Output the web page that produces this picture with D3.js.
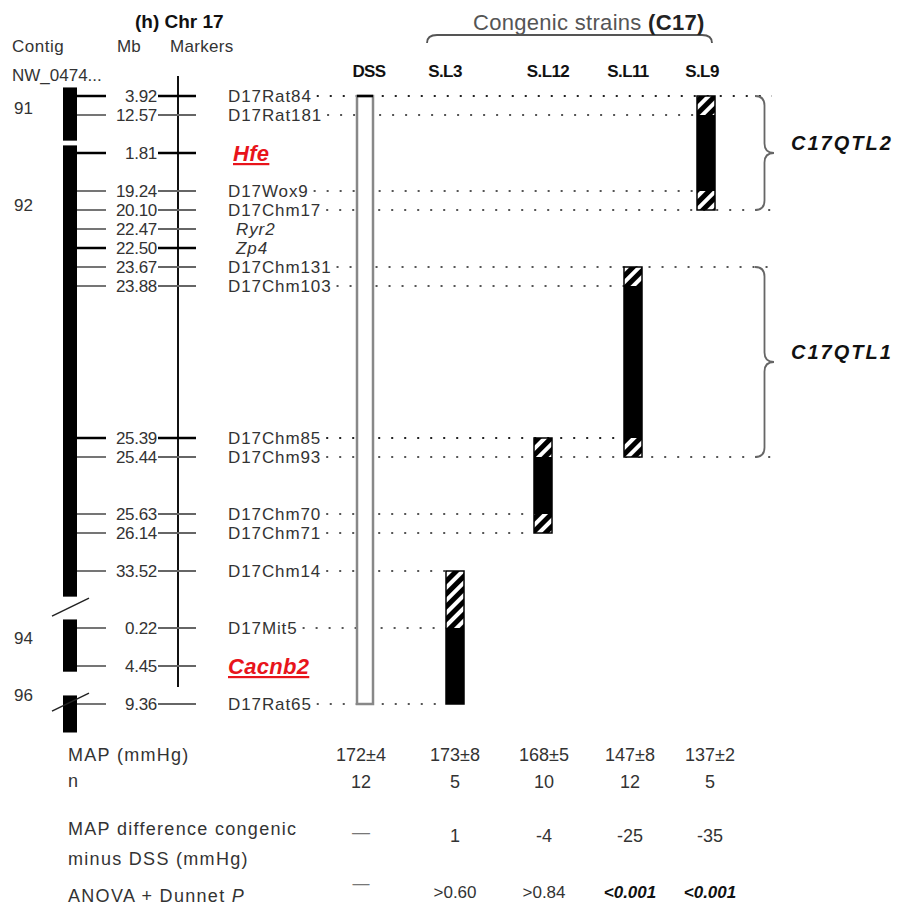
<!DOCTYPE html>
<html>
<head>
<meta charset="utf-8">
<title>Chr 17 congenic strains</title>
<script src="https://cdn.jsdelivr.net/npm/d3@7"></script>
<style>
  body { margin: 0; background: #fff; }
  svg text { font-family: "Liberation Sans", Arial, sans-serif; fill: #333; }
</style>
</head>
<body>
<div id="chart"></div>
<script>
// markers in map order; slot = row on the map grid
var markers = ["D17Rat84", "D17Rat181", "Hfe", "D17Wox9", "D17Chm17", "Ryr2", "Zp4", "D17Chm131", "D17Chm103",
  "D17Chm85", "D17Chm93", "D17Chm70", "D17Chm71", "D17Chm14", "D17Mit5", "Cacnb2", "D17Rat65"];
var mbLabels = ["3.92", "12.57", "1.81", "19.24", "20.10", "22.47", "22.50", "23.67", "23.88",
  "25.39", "25.44", "25.63", "26.14", "33.52", "0.22", "4.45", "9.36"];
var slots = [0, 1, 3, 5, 6, 7, 8, 9, 10, 18, 19, 22, 23, 25, 28, 30, 32];
var genes = ["Hfe", "Cacnb2"];
var italicMarkers = ["Ryr2", "Zp4"];
var boldTicks = ["D17Rat84", "Hfe", "Zp4", "D17Chm85"];
// where each marker's dotted guide stops (strain bar or the QTL brace)
var dotEnds = ["brace", "S.L9", null, "S.L9", "brace", null, null, "brace", "S.L11",
  "S.L11", "brace", "S.L12", "S.L12", "S.L3", "S.L3", null, "S.L3"];

// contigs (NW_0474...) as slot spans
var contigs = ["91", "92", "94", "96"];
var contigSpans = [[-0.45, 2.35], [2.6, 26.35], [27.55, 30.3], [31.55, 33.5]];
var contigLabelSlots = [0.65, 5.75, 28.55, 31.55];
var breakSlots = [26.9, 31.9];

// strains and their donor intervals (slots)
var strains = ["DSS", "S.L3", "S.L12", "S.L11", "S.L9"];
var strainSpans = [[0, 32], [25, 32], [18, 23], [9, 19], [0, 6]];
var strainFlanks = [[], [[25, 28]], [[18, 19], [22, 23]], [[9, 10], [18, 19]], [[0, 1], [5, 6]]];

var qtls = ["C17QTL2", "C17QTL1"];
var qtlSpans = [[0, 6], [9, 19]];

// blood pressure table
var mapMean = [172, 173, 168, 147, 137];
var mapSem = [4, 8, 5, 8, 2];
var nRats = [12, 5, 10, 12, 5];
var mapDiff = [null, 1, -4, -25, -35];
var pValues = [null, ">0.60", ">0.84", "<0.001", "<0.001"];
var pSignificant = [false, false, false, true, true];

var width = 897, height = 907;
var svg = d3.select("#chart").append("svg").attr("width", width).attr("height", height);

var y = d3.scaleLinear().domain([0, 32]).range([96, 704]);
var x = d3.scaleOrdinal().domain(strains).range([365, 455, 543, 633, 706]);
var headX = d3.scaleOrdinal().domain(strains).range([369, 445, 548, 628, 702]);
var tableX = d3.scaleOrdinal().domain(strains).range([361, 455, 544, 630, 710]);

var defs = svg.append("defs");
var hatch = defs.append("pattern").attr("id", "hatch").attr("patternUnits", "userSpaceOnUse")
  .attr("width", 9).attr("height", 9).attr("patternTransform", "rotate(45)");
hatch.append("rect").attr("width", 9).attr("height", 9).attr("fill", "#000");
hatch.append("rect").attr("width", 4).attr("height", 9).attr("fill", "#fff");

// header
svg.append("text").attr("x", 135).attr("y", 28).style("font-size", "19px").style("font-weight", "bold")
  .style("fill", "#111").text("(h) Chr 17");
svg.append("text").attr("x", 12).attr("y", 52).style("font-size", "17px").style("letter-spacing", "0.5px").text("Contig");
svg.append("text").attr("x", 117).attr("y", 52).style("font-size", "17px").text("Mb");
svg.append("text").attr("x", 170).attr("y", 52).style("font-size", "17px").style("letter-spacing", "0.3px").text("Markers");
svg.append("text").attr("x", 12).attr("y", 81).style("font-size", "17px").text("NW_0474...");

// contig bars
svg.selectAll(".contig").data(contigSpans).join("rect").attr("class", "contig")
  .attr("x", 63).attr("width", 14)
  .attr("y", function(d) { return y(d[0]); })
  .attr("height", function(d) { return y(d[1]) - y(d[0]); })
  .attr("fill", "#000");
svg.selectAll(".contigLabel").data(contigs).join("text").attr("class", "contigLabel")
  .attr("x", 14).attr("y", function(d, i) { return y(contigLabelSlots[i]) + 6; })
  .style("font-size", "17px").text(function(d) { return d; });
svg.selectAll(".break").data(breakSlots).join("line").attr("class", "break")
  .attr("x1", 52).attr("x2", 89)
  .attr("y1", function(d) { return y(d) + 9; })
  .attr("y2", function(d) { return y(d) - 9; })
  .attr("stroke", "#222").attr("stroke-width", 1.5);

// marker axis
svg.append("line").attr("x1", 178).attr("x2", 178).attr("y1", 76).attr("y2", 687)
  .attr("stroke", "#111").attr("stroke-width", 2);

var rows = svg.selectAll(".marker").data(markers).join("g").attr("class", "marker")
  .attr("transform", function(d, i) { return "translate(0," + y(slots[i]) + ")"; });
rows.append("line").attr("x1", 77).attr("x2", 106)
  .attr("stroke", function(d) { return boldTicks.indexOf(d) >= 0 ? "#000" : "#666"; })
  .attr("stroke-width", function(d) { return boldTicks.indexOf(d) >= 0 ? 2.5 : 1.8; });
rows.append("line").attr("x1", 158).attr("x2", 196)
  .attr("stroke", function(d) { return boldTicks.indexOf(d) >= 0 ? "#000" : "#666"; })
  .attr("stroke-width", function(d) { return boldTicks.indexOf(d) >= 0 ? 2.5 : 1.8; });
rows.append("text").attr("x", 157).attr("y", 6).attr("text-anchor", "end")
  .style("font-size", "17px").style("letter-spacing", "-0.3px")
  .text(function(d, i) { return mbLabels[i]; });
var names = rows.append("text")
  .attr("x", function(d) { return d === "Hfe" ? 233 : (italicMarkers.indexOf(d) >= 0 ? 236 : 228); })
  .attr("y", function(d) { return genes.indexOf(d) >= 0 ? 8 : 6; })
  .style("font-size", function(d) { return genes.indexOf(d) >= 0 ? "22px" : "17px"; })
  .style("font-style", function(d) { return genes.indexOf(d) >= 0 || italicMarkers.indexOf(d) >= 0 ? "italic" : "normal"; })
  .style("font-weight", function(d) { return genes.indexOf(d) >= 0 ? "bold" : "normal"; })
  .style("fill", function(d) { return genes.indexOf(d) >= 0 ? "#e8141b" : "#333"; })
  .style("text-decoration", function(d) { return genes.indexOf(d) >= 0 ? "underline" : "none"; })
  .style("letter-spacing", function(d) { return genes.indexOf(d) >= 0 ? "0.3px" : "0.9px"; })
  .text(function(d) { return d; });

// dotted guides from marker names to the strain bars
names.each(function(d, i) {
  var end = dotEnds[i];
  if (!end) return;
  var x0 = 228 + this.getComputedTextLength() + 5;
  var x1 = end === "brace" ? 772 : x(end) - 9;
  d3.select(this.parentNode).insert("line", "text").attr("class", "dots")
    .attr("x1", x0).attr("x2", x1)
    .attr("stroke", i === 0 || i === 9 ? "#222" : "#555").attr("stroke-width", 2)
    .attr("stroke-dasharray", "2,11");
});

// strain bars
svg.append("rect")
  .attr("x", x("DSS") - 8).attr("width", 16)
  .attr("y", y(strainSpans[0][0]))
  .attr("height", y(strainSpans[0][1]) - y(strainSpans[0][0]))
  .attr("fill", "#fff").attr("stroke", "#888").attr("stroke-width", 2.5);
svg.append("line").attr("x1", x("DSS") - 8).attr("x2", x("DSS") + 8)
  .attr("y1", y(0)).attr("y2", y(0)).attr("stroke", "#000").attr("stroke-width", 2.5);

strains.forEach(function(s, i) {
  if (s === "DSS") return;
  var g = svg.append("g");
  var sp = strainSpans[i];
  g.append("rect").attr("x", x(s) - 9).attr("width", 18)
    .attr("y", y(sp[0])).attr("height", y(sp[1]) - y(sp[0])).attr("fill", "#000");
  g.selectAll(".flank").data(strainFlanks[i]).join("rect").attr("class", "flank")
    .attr("x", x(s) - 9).attr("width", 18)
    .attr("y", function(d) { return y(d[0]); })
    .attr("height", function(d) { return y(d[1]) - y(d[0]); })
    .attr("fill", "url(#hatch)");
  g.append("rect").attr("x", x(s) - 9).attr("width", 18)
    .attr("y", y(sp[0])).attr("height", y(sp[1]) - y(sp[0]))
    .attr("fill", "none").attr("stroke", "#000").attr("stroke-width", 1.5);
});

// strain headers
svg.selectAll(".strainName").data(strains).join("text").attr("class", "strainName")
  .attr("x", function(d) { return headX(d); }).attr("y", 77)
  .attr("text-anchor", "middle").style("font-size", "17px").style("font-weight", "bold")
  .style("fill", "#111").style("letter-spacing", "-0.6px")
  .text(function(d) { return d; });

// congenic strains brace
svg.append("path").attr("d", "M427,43 Q427,35 437,35 L702,35 Q712,35 712,43")
  .attr("fill", "none").attr("stroke", "#555").attr("stroke-width", 1.8);
var cs = svg.append("text").attr("x", 473).attr("y", 30).style("font-size", "22px").style("fill", "#555")
  .style("letter-spacing", "0.3px");
cs.append("tspan").text("Congenic strains ");
cs.append("tspan").style("font-weight", "bold").style("fill", "#222").text("(C17)");

// QTL braces
function vbrace(x0, y0, y1, w) {
  var ym = (y0 + y1) / 2, h = w / 2;
  return "M" + x0 + "," + y0 + " Q" + (x0 + h) + "," + y0 + " " + (x0 + h) + "," + (y0 + h) +
    " L" + (x0 + h) + "," + (ym - h) + " Q" + (x0 + h) + "," + ym + " " + (x0 + w) + "," + ym +
    " Q" + (x0 + h) + "," + ym + " " + (x0 + h) + "," + (ym + h) +
    " L" + (x0 + h) + "," + (y1 - h) + " Q" + (x0 + h) + "," + y1 + " " + x0 + "," + y1;
}
svg.selectAll(".qtlBrace").data(qtlSpans).join("path").attr("class", "qtlBrace")
  .attr("d", function(d) { return vbrace(755, y(d[0]), y(d[1]), 19); })
  .attr("fill", "none").attr("stroke", "#666").attr("stroke-width", 1.8);
svg.selectAll(".qtlName").data(qtls).join("text").attr("class", "qtlName")
  .attr("x", 791).attr("y", function(d, i) { return (y(qtlSpans[i][0]) + y(qtlSpans[i][1])) / 2 - 3; })
  .style("font-size", "20px").style("font-weight", "bold").style("font-style", "italic")
  .style("fill", "#111").style("letter-spacing", "2px")
  .text(function(d) { return d; });

// table
var rowLabels = [["MAP (mmHg)", 761], ["n", 787], ["MAP difference congenic", 835], ["minus DSS (mmHg)", 865]];
rowLabels.forEach(function(r) {
  svg.append("text").attr("x", 68).attr("y", r[1]).style("font-size", "18px").style("letter-spacing", "1.3px").text(r[0]);
});
var anova = svg.append("text").attr("x", 68).attr("y", 902).style("font-size", "18px").style("letter-spacing", "1.3px");
anova.append("tspan").text("ANOVA + Dunnet ");
anova.append("tspan").style("font-style", "italic").text("P");

var cells = svg.selectAll(".col").data(strains).join("g").attr("class", "col")
  .attr("transform", function(d) { return "translate(" + tableX(d) + ",0)"; });
cells.append("text").attr("y", 761).attr("text-anchor", "middle").style("font-size", "18px")
  .text(function(d, i) { return mapMean[i] + "\u00b1" + mapSem[i]; });
cells.append("text").attr("y", 788).attr("text-anchor", "middle").style("font-size", "18px")
  .text(function(d, i) { return nRats[i]; });
cells.append("text").attr("y", function(d, i) { return mapDiff[i] === null ? 838 : 842; })
  .attr("text-anchor", "middle").style("font-size", "18px")
  .style("fill", function(d, i) { return mapDiff[i] === null ? "#777" : "#333"; })
  .text(function(d, i) { return mapDiff[i] === null ? "\u2014" : mapDiff[i]; });
cells.append("text").attr("y", function(d, i) { return pValues[i] === null ? 889 : 898; })
  .attr("text-anchor", "middle").style("font-size", "17px")
  .style("font-weight", function(d, i) { return pSignificant[i] ? "bold" : "normal"; })
  .style("font-style", function(d, i) { return pSignificant[i] ? "italic" : "normal"; })
  .style("fill", function(d, i) { return pValues[i] === null ? "#777" : (pSignificant[i] ? "#111" : "#333"); })
  .text(function(d, i) { return pValues[i] === null ? "\u2014" : pValues[i]; });
</script>
</body>
</html>
